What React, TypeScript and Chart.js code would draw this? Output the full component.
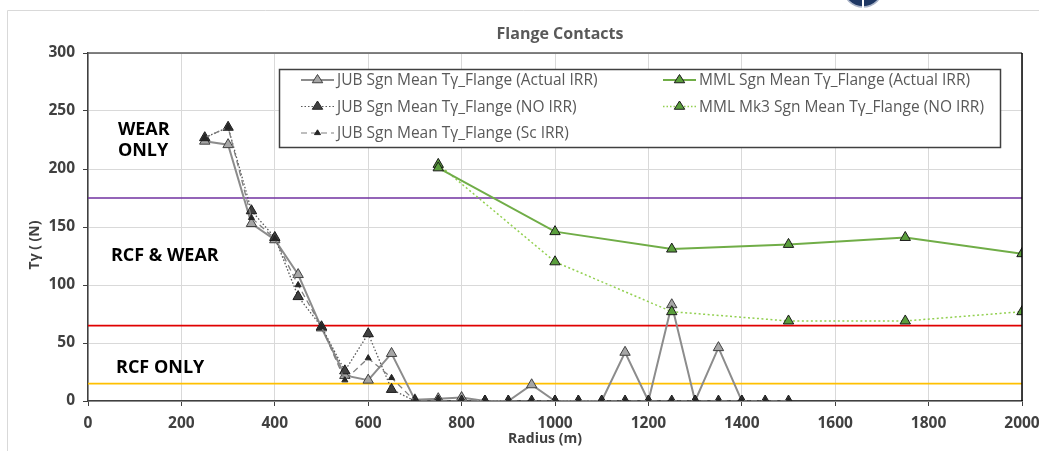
import React, { useEffect, useRef } from "react";
import { Chart, registerables } from "chart.js";

Chart.register(...registerables);

// ---- Data ----
const jubActualRadius = [250, 300, 350, 400, 450, 500, 550, 600, 650, 700, 750, 800, 850, 900, 950, 1000, 1050, 1100, 1150, 1200, 1250, 1300, 1350, 1400];
const jubActualValues = [224, 221, 153, 139, 109, 63, 22, 18, 41, 1, 2, 3, 0, 0, 14, 0, 0, 0, 42, 0, 83, 0, 46, 0];

const jubRadius = [250, 300, 350, 400, 450, 500, 550, 600, 650, 700, 750, 800, 850, 900, 950, 1000, 1050, 1100, 1150, 1200, 1250, 1300, 1350, 1400, 1450, 1500];
const jubNoIrrValues = [227, 236, 164, 141, 90, 64, 26, 58, 10, 0, 0, 0, 0, 0, 0, 0, 0, 0, 0, 0, 0, 0, 0, 0, 0, 0];
const jubScIrrValues = [227, 236, 158, 140, 100, 64, 18, 37, 20, 0, 0, 0, 0, 0, 0, 0, 0, 0, 0, 0, 0, 0, 0, 0, 0, 0];

const mmlRadius = [750, 1000, 1250, 1500, 1750, 2000];
const mmlActualValues = [201, 146, 131, 135, 141, 127];
const mmlMk3NoIrrValues = [204, 120, 77, 69, 69, 77];

const thresholdValues = [175, 65, 15];
const thresholdColors = ["#7030a0", "#e00000", "#ffc000"];
const xRange = [0, 2000];

const seriesLabels = [
  "JUB Sgn Mean Tγ_Flange (Actual IRR)",
  "JUB Sgn Mean Tγ_Flange (NO IRR)",
  "JUB Sgn Mean Tγ_Flange (Sc IRR)",
  "MML Sgn Mean Tγ_Flange (Actual IRR)",
  "MML Mk3 Sgn Mean Tγ_Flange (NO IRR)",
];

const chartTitle = "Flange Contacts";
const xTitle = "Radius (m)";
const yTitle = "Tγ ( (N)";
const zoneLabels = [
  { lines: ["WEAR", "ONLY"], x: 64, y: 234 },
  { lines: ["RCF & WEAR"], x: 49, y: 125 },
  { lines: ["RCF ONLY"], x: 60, y: 28.5 },
];

const FONT = "'Open Sans', 'Liberation Sans', sans-serif";

const toPts = (xs: number[], ys: number[]) => xs.map((x, i) => ({ x, y: ys[i] }));

type LegendItem = { label: string; color: string; width: number; dash: number[]; fill: string; stroke: string; r: number };

const legendItems: LegendItem[] = [
  { label: seriesLabels[0], color: "#8c8c8c", width: 2, dash: [], fill: "#a6a6a6", stroke: "#404040", r: 5.5 },
  { label: seriesLabels[1], color: "#595959", width: 1.2, dash: [1.5, 2], fill: "#404040", stroke: "#262626", r: 5.5 },
  { label: seriesLabels[2], color: "#7f7f7f", width: 1.2, dash: [6, 4], fill: "#262626", stroke: "#262626", r: 3.2 },
  { label: seriesLabels[3], color: "#70ad47", width: 2, dash: [], fill: "#5a9e3c", stroke: "#1a1a1a", r: 5.5 },
  { label: seriesLabels[4], color: "#92d050", width: 1.5, dash: [1.5, 2], fill: "#5a9e3c", stroke: "#1a1a1a", r: 5.5 },
];

function drawTriangle(ctx: CanvasRenderingContext2D, x: number, y: number, r: number, fill: string, stroke: string) {
  const h = r * 1.5;
  ctx.beginPath();
  ctx.moveTo(x, y - r);
  ctx.lineTo(x + r * 0.95, y + h - r);
  ctx.lineTo(x - r * 0.95, y + h - r);
  ctx.closePath();
  ctx.fillStyle = fill;
  ctx.fill();
  ctx.setLineDash([]);
  ctx.lineWidth = 1;
  ctx.strokeStyle = stroke;
  ctx.stroke();
}

const decorPlugin = {
  id: "decor",
  afterDraw(chart: any) {
    const ctx: CanvasRenderingContext2D = chart.ctx;
    const area = chart.chartArea;
    const xs = chart.scales.x;
    const ys = chart.scales.y;
    ctx.save();

    // outer frame
    ctx.strokeStyle = "#d9d9d9";
    ctx.lineWidth = 1;
    ctx.setLineDash([]);
    ctx.beginPath();
    ctx.moveTo(7.5, 451);
    ctx.lineTo(7.5, 10.5);
    ctx.lineTo(1039, 10.5);
    ctx.stroke();

    // logo fragment
    ctx.save();
    ctx.beginPath();
    ctx.rect(830, 0, 70, 8);
    ctx.clip();
    ctx.beginPath();
    ctx.arc(863, -13, 20, 0, Math.PI * 2);
    ctx.fillStyle = "#1f3864";
    ctx.fill();
    ctx.strokeStyle = "#aab4c8";
    ctx.lineWidth = 1.5;
    ctx.stroke();
    ctx.strokeStyle = "#ffffff";
    ctx.lineWidth = 2;
    ctx.beginPath();
    ctx.moveTo(863, 0);
    ctx.lineTo(863, 8);
    ctx.stroke();
    ctx.restore();

    // plot border top/right
    ctx.lineWidth = 1.5;
    ctx.strokeStyle = "#595959";
    ctx.beginPath();
    ctx.moveTo(area.left, area.top);
    ctx.lineTo(area.right, area.top);
    ctx.stroke();
    ctx.strokeStyle = "#000000";
    ctx.beginPath();
    ctx.moveTo(area.right, area.top);
    ctx.lineTo(area.right, area.bottom);
    ctx.stroke();

    // title
    ctx.fillStyle = "#595959";
    ctx.font = `bold 16px ${FONT}`;
    ctx.textAlign = "center";
    ctx.textBaseline = "middle";
    ctx.fillText(chartTitle, 560, 34);

    // axis titles
    ctx.fillStyle = "#404040";
    ctx.font = `bold 14px ${FONT}`;
    ctx.fillText(xTitle, 545, 439);
    ctx.save();
    ctx.translate(35, 245);
    ctx.rotate(-Math.PI / 2);
    ctx.fillText(yTitle, 0, 0);
    ctx.restore();

    // zone labels
    ctx.fillStyle = "#000000";
    ctx.font = `bold 18px ${FONT}`;
    ctx.textAlign = "left";
    zoneLabels.forEach((z) => {
      const px = xs.getPixelForValue(z.x);
      const py = ys.getPixelForValue(z.y);
      z.lines.forEach((ln, i) => ctx.fillText(ln, px, py + i * 21));
    });

    // legend
    const L = 279, T = 69, R = 1000, B = 147;
    ctx.fillStyle = "#ffffff";
    ctx.fillRect(L, T, R - L, B - T);
    ctx.strokeStyle = "#404040";
    ctx.lineWidth = 1.5;
    ctx.setLineDash([]);
    ctx.strokeRect(L + 0.5, T + 0.5, R - L, B - T);
    const rowsY = [80, 106.5, 133];
    const cols = [301, 663];
    legendItems.forEach((it, i) => {
      const col = i < 3 ? 0 : 1;
      const row = i < 3 ? i : i - 3;
      const x0 = cols[col];
      const y = rowsY[row];
      ctx.strokeStyle = it.color;
      ctx.lineWidth = it.width;
      ctx.setLineDash(it.dash);
      ctx.beginPath();
      ctx.moveTo(x0, y);
      ctx.lineTo(x0 + 33, y);
      ctx.stroke();
      drawTriangle(ctx, x0 + 16.5, y, it.r, it.fill, it.stroke);
      ctx.fillStyle = "#595959";
      ctx.font = `15.5px ${FONT}`;
      ctx.textAlign = "left";
      ctx.textBaseline = "middle";
      ctx.fillText(it.label, x0 + 36, y + 1);
    });

    ctx.restore();
  },
};

export default function App() {
  const ref = useRef<HTMLCanvasElement | null>(null);

  useEffect(() => {
    if (!ref.current) return;
    const thresholdSets = thresholdValues.map((v, i) => ({
      label: "threshold" + i,
      data: xRange.map((x) => ({ x, y: v })),
      borderColor: thresholdColors[i],
      borderWidth: 1.6,
      pointRadius: 0,
      order: 10,
    }));

    const tickCb = (v: any) => String(v);

    const chart = new Chart(ref.current, {
      type: "line",
      data: {
        datasets: [
          {
            label: seriesLabels[3],
            data: toPts(mmlRadius, mmlActualValues),
            borderColor: "#70ad47",
            borderWidth: 2,
            pointStyle: "triangle",
            pointRadius: 6,
            pointBackgroundColor: "#5a9e3c",
            pointBorderColor: "#1a1a1a",
            pointBorderWidth: 1,
            order: 1,
          },
          {
            label: seriesLabels[4],
            data: toPts(mmlRadius, mmlMk3NoIrrValues),
            borderColor: "#92d050",
            borderWidth: 1.5,
            borderDash: [2, 2.5],
            pointStyle: "triangle",
            pointRadius: 6,
            pointBackgroundColor: "#5a9e3c",
            pointBorderColor: "#1a1a1a",
            pointBorderWidth: 1,
            order: 2,
          },
          {
            label: seriesLabels[2],
            data: toPts(jubRadius, jubScIrrValues),
            borderColor: "#7f7f7f",
            borderWidth: 1.3,
            borderDash: [6, 4],
            pointStyle: "triangle",
            pointRadius: 3.5,
            pointBackgroundColor: "#262626",
            pointBorderColor: "#262626",
            pointBorderWidth: 1,
            order: 3,
          },
          {
            label: seriesLabels[1],
            data: toPts(jubRadius, jubNoIrrValues),
            borderColor: "#595959",
            borderWidth: 1.3,
            borderDash: [1.5, 2],
            pointStyle: "triangle",
            pointRadius: 6,
            pointBackgroundColor: "#404040",
            pointBorderColor: "#1a1a1a",
            pointBorderWidth: 1,
            order: 4,
          },
          {
            label: seriesLabels[0],
            data: toPts(jubActualRadius, jubActualValues),
            borderColor: "#8c8c8c",
            borderWidth: 2,
            pointStyle: "triangle",
            pointRadius: 6,
            pointBackgroundColor: "#a6a6a6",
            pointBorderColor: "#404040",
            pointBorderWidth: 1,
            order: 5,
          },
          ...thresholdSets,
        ],
      },
      options: {
        animation: false,
        responsive: true,
        maintainAspectRatio: false,
        layout: { padding: { left: 0, top: 53, right: 17, bottom: 0 } },
        plugins: {
          legend: { display: false },
          title: { display: false },
          tooltip: { enabled: false },
        },
        scales: {
          x: {
            type: "linear",
            min: xRange[0],
            max: xRange[1],
            afterFit: (s: any) => { s.height = 50; s.paddingLeft = 0; s.paddingRight = 0; },
            ticks: {
              stepSize: 200,
              color: "#404040",
              font: { family: FONT, size: 15.5, weight: "bold" },
              padding: 8,
              maxRotation: 0,
              callback: tickCb,
            },
            grid: {
              color: "#d9d9d9",
              lineWidth: 1,
              borderDash: [4, 3],
              tickBorderDash: [],
              tickColor: "#404040",
              tickLength: 5,
              tickWidth: 1,
            } as any,
            border: { color: "#404040", width: 1.5 },
          },
          y: {
            min: 0,
            max: 300,
            afterFit: (s: any) => { s.width = 88; s.paddingTop = 0; s.paddingBottom = 0; },
            ticks: {
              stepSize: 50,
              color: "#404040",
              font: { family: FONT, size: 15.5, weight: "bold" },
              padding: 8,
              callback: tickCb,
            },
            grid: {
              color: "#d9d9d9",
              lineWidth: 1,
              borderDash: [4, 3],
              tickBorderDash: [],
              tickColor: "#404040",
              tickLength: 5,
              tickWidth: 1,
            } as any,
            border: { color: "#404040", width: 1.5 },
          },
        },
      } as any,
      plugins: [decorPlugin],
    });
    return () => chart.destroy();
  }, []);

  return (
    <div style={{ position: "absolute", left: 0, top: 0, width: 1039, height: 451, background: "#ffffff" }}>
      <canvas ref={ref} />
    </div>
  );
}
